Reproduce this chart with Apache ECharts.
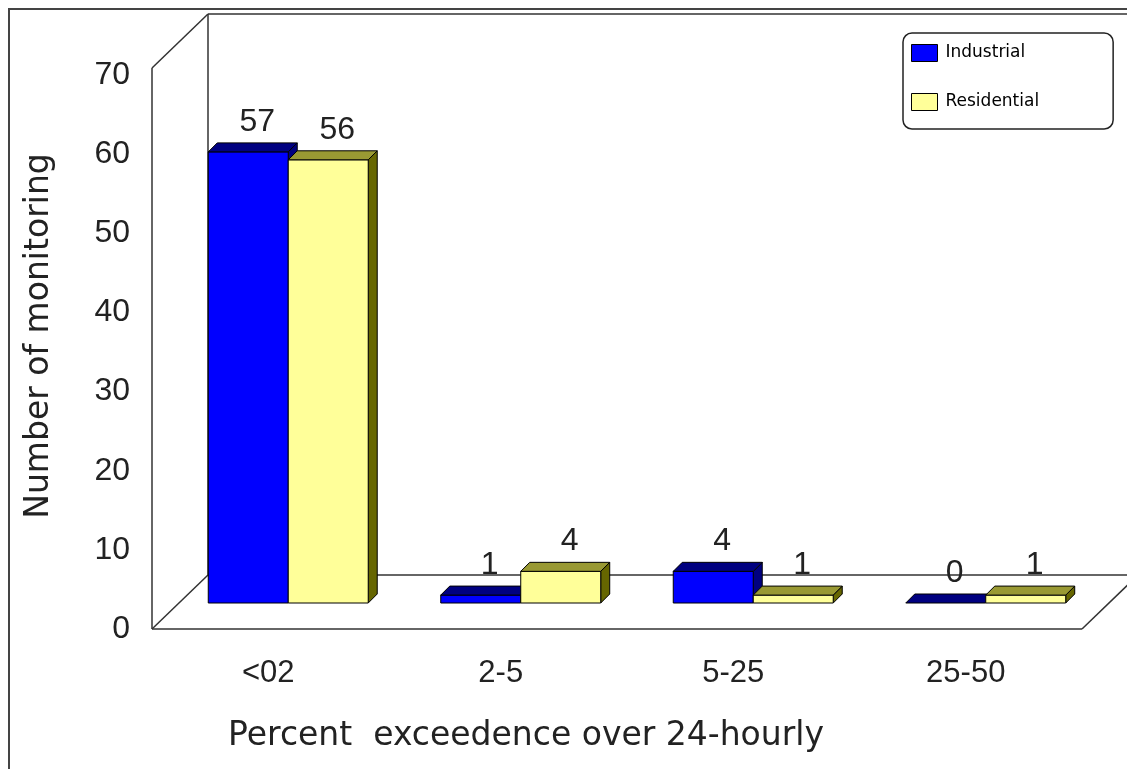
<!DOCTYPE html>
<html><head><meta charset="utf-8">
<script src="https://cdn.jsdelivr.net/npm/echarts@6/dist/echarts.min.js"></script>
<style>html,body{margin:0;padding:0;background:#fff}#c{width:1127px;height:769px}</style>
</head><body><div id="c"></div>
<script>
// ---- data ----
const categories = ['<02', '2-5', '5-25', '25-50'];
const industrial = [57, 1, 4, 0];
const residential = [56, 4, 1, 1];
const seriesNames = ['Industrial', 'Residential'];
const yMin = 0, yMax = 70, yStep = 10;
const xTitle = 'Percent  exceedence over 24-hourly';
const yTitle = 'Number of monitoring';

// ---- style constants ----
const WALL_DX = 56, WALL_DY = 54, WALL_PAD = 7;
const BAR_DY = -26, BAR_D = 9;
const NUM_FONT = '"Liberation Sans", Arial, sans-serif';
const TXT_FONT = '"DejaVu Sans", sans-serif';

function barRender(idx, front, topC, side) {
  return function (params, api) {
    const cat = api.value(0), val = api.value(1);
    const base = api.coord([cat, 0]);
    const tp = api.coord([cat, val]);
    const band = api.size([1, 0])[0];
    const w = band * 0.344;
    const x0 = base[0] - band * 0.258 + idx * w;
    const x1 = x0 + w;
    const yb = base[1] + BAR_DY, yt = tp[1] + BAR_DY;
    const d = BAR_D;
    const st = { stroke: '#000', lineWidth: 1 };
    const children = [];
    if (yb - yt > 0.5) {
      children.push({ type: 'polygon', shape: { points: [[x1, yt], [x1 + d, yt - d], [x1 + d, yb - d], [x1, yb]] }, style: Object.assign({ fill: side }, st) });
      children.push({ type: 'rect', shape: { x: x0, y: yt, width: w, height: yb - yt }, style: Object.assign({ fill: front }, st) });
    }
    children.push({ type: 'polygon', shape: { points: [[x0, yt], [x1, yt], [x1 + d, yt - d], [x0 + d, yt - d]] }, style: Object.assign({ fill: topC }, st) });
    children.push({ type: 'text', style: { text: String(val), x: (x0 + x1) / 2 + 9, y: yt - d - 21, align: 'center', verticalAlign: 'middle', font: '32px ' + NUM_FONT, fill: '#222' } });
    return { type: 'group', children: children };
  };
}

function wallRender(params, api) {
  const cs = params.coordSys;
  const L = cs.x, R = cs.x + cs.width, B = cs.y + cs.height, T = cs.y - WALL_PAD;
  const dx = WALL_DX, dy = WALL_DY;
  const ls = { stroke: '#333', lineWidth: 1.5, fill: null };
  const lines = [
    [[L, B], [L, T]], [[L, T], [L + dx, T - dy]], [[L + dx, T - dy], [L + dx, B - dy]],
    [[L + dx, T - dy], [R + dx, T - dy]], [[L, B], [L + dx, B - dy]], [[L + dx, B - dy], [R + dx, B - dy]],
    [[L, B], [R, B]], [[R, B], [R + dx, B - dy]], [[R + dx, B - dy], [R + dx, T - dy]]
  ];
  return { type: 'group', children: lines.map(p => ({ type: 'polyline', shape: { points: p }, style: ls })) };
}

const chart = echarts.init(document.getElementById('c'), null, { renderer: 'canvas' });
chart.setOption({
  backgroundColor: '#fff',
  animation: false,
  graphic: [{ type: 'rect', shape: { x: 9, y: 9, width: 1300, height: 900 }, style: { fill: null, stroke: '#444', lineWidth: 2 }, z: 0, silent: true }],
  grid: { left: 152, right: 45, top: 75, bottom: 140 },
  legend: {
    data: seriesNames, orient: 'vertical', left: 903, top: 33,
    padding: [11, 74, 18, 8], itemGap: 31, itemWidth: 26, itemHeight: 17,
    borderColor: '#222', borderWidth: 1.5, borderRadius: 9,
    icon: 'rect',
    itemStyle: { borderColor: '#000', borderWidth: 1 },
    textStyle: { fontFamily: TXT_FONT, fontSize: 17, color: '#000', padding: [0, 0, 0, 3] }
  },
  xAxis: {
    type: 'category', data: categories,
    axisLine: { show: false }, axisTick: { show: false }, splitLine: { show: false },
    axisLabel: { fontFamily: NUM_FONT, fontSize: 31, color: '#222', margin: 44, verticalAlign: 'middle' },
    name: xTitle, nameLocation: 'middle', nameGap: 107,
    nameTextStyle: { fontFamily: TXT_FONT, fontSize: 33, color: '#222', verticalAlign: 'middle', padding: [0, 182, 0, 0] }
  },
  yAxis: {
    type: 'value', min: yMin, max: yMax, interval: yStep,
    axisLine: { show: false }, axisTick: { show: false }, splitLine: { show: false },
    axisLabel: { fontFamily: NUM_FONT, fontSize: 32, color: '#222', margin: 22 },
    name: yTitle, nameLocation: 'middle', nameGap: 113, nameRotate: 90,
    nameTextStyle: { fontFamily: TXT_FONT, fontSize: 33, color: '#222', verticalAlign: 'middle', padding: [0, 0, 0, 32] }
  },
  series: [
    { type: 'custom', name: 'walls', silent: true, z: 1, renderItem: wallRender, data: [[0, 0]], encode: { x: 0, y: 1 } },
    { type: 'custom', name: seriesNames[0], z: 2, itemStyle: { color: '#0000FF' }, renderItem: barRender(0, '#0000FF', '#000080', '#000080'), data: industrial.map((v, i) => [i, v]), encode: { x: 0, y: 1 } },
    { type: 'custom', name: seriesNames[1], z: 3, itemStyle: { color: '#FFFF99' }, renderItem: barRender(1, '#FFFF99', '#999933', '#666600'), data: residential.map((v, i) => [i, v]), encode: { x: 0, y: 1 } }
  ]
});
</script></body></html>
